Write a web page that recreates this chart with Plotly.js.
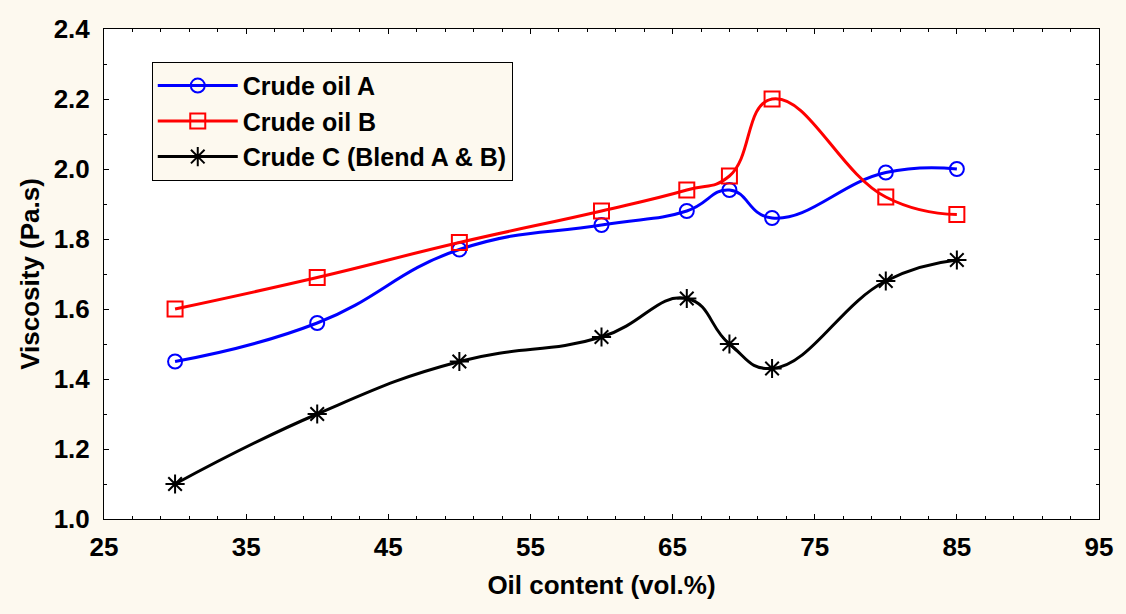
<!DOCTYPE html>
<html>
<head>
<meta charset="utf-8">
<script src="https://cdn.plot.ly/plotly-3.0.1.min.js"></script>
<style>html,body{margin:0;padding:0;background:#FDF9EF;}#chart{width:1126px;height:614px;}</style>
</head>
<body>
<div id="chart"></div>
<script>
const oilContent = [30, 40, 50, 60, 66, 69, 72, 80, 85];
const crudeA = [1.45, 1.56, 1.77, 1.84, 1.88, 1.94, 1.86, 1.99, 2.00];
const crudeB = [1.60, 1.69, 1.79, 1.88, 1.94, 1.98, 2.20, 1.92, 1.87];
const crudeC = [1.10, 1.30, 1.45, 1.52, 1.63, 1.50, 1.43, 1.68, 1.74];
const seriesNames = ["Crude oil A", "Crude oil B", "Crude C (Blend A & B)"];
const xTicks = [25, 35, 45, 55, 65, 75, 85, 95];
const yTicks = [1.0, 1.2, 1.4, 1.6, 1.8, 2.0, 2.2, 2.4];

const FONT = "Liberation Sans, Arial, sans-serif";
function tr(y, name, color, symbol, size) {
  return {
    x: oilContent, y: y, name: name, legendgroup: name, type: "scatter", mode: "lines+markers",
    line: {color: color, width: 3, shape: "spline", smoothing: 1.3},
    marker: {symbol: symbol, size: size, color: color, line: {color: color, width: 2}},
    cliponaxis: false
  };
}
const data = [
  tr(crudeA, seriesNames[0], "#0000FF", "circle-open", 14),
  tr(crudeB, seriesNames[1], "#FF0000", "square-open", 15),
  tr(crudeC, seriesNames[2], "#000000", "asterisk-open", 16)
];
const axisCommon = {
  showline: true, linecolor: "#000", linewidth: 1, mirror: "allticks",
  ticks: "inside", ticklen: 5, tickcolor: "#000", showgrid: false, zeroline: false,
  tickfont: {family: FONT, size: 26, color: "#000", weight: "bold"}
};
const layout = {
  width: 1126, height: 614,
  paper_bgcolor: "#FDF9EF", plot_bgcolor: "#FFFFFF",
  margin: {l: 104, r: 27, t: 29, b: 95},
  showlegend: true,
  legend: {
    x: 0.048, y: 0.933, xanchor: "left", yanchor: "top",
    bgcolor: "#FDF9EF", bordercolor: "#000", borderwidth: 1,
    font: {family: FONT, size: 25, color: "#000", weight: "bold"},
    traceorder: "grouped", tracegroupgap: 0, itemwidth: 80
  },
  xaxis: Object.assign({}, axisCommon, {
    range: [25, 95], tickvals: xTicks, ticktext: xTicks.map(String),
    ticklabelstandoff: 5,
    minor: {dtick: 2, tick0: 25, ticks: "inside", ticklen: 3, tickcolor: "#000"},
    title: {text: "Oil content (vol.%)", font: {family: FONT, size: 26, color: "#000", weight: "bold"}, standoff: 14}
  }),
  yaxis: Object.assign({}, axisCommon, {
    range: [1.0, 2.4], tickvals: yTicks, ticktext: yTicks.map(v => v.toFixed(1)),
    ticklabelstandoff: 8,
    minor: {dtick: 0.1, tick0: 1.0, ticks: "inside", ticklen: 3, tickcolor: "#000"},
    title: {text: "Viscosity (Pa.s)", font: {family: FONT, size: 26, color: "#000", weight: "bold"}, standoff: 6}
  })
};
Plotly.newPlot("chart", data, layout, {displayModeBar: false, staticPlot: true});
</script>
</body>
</html>
